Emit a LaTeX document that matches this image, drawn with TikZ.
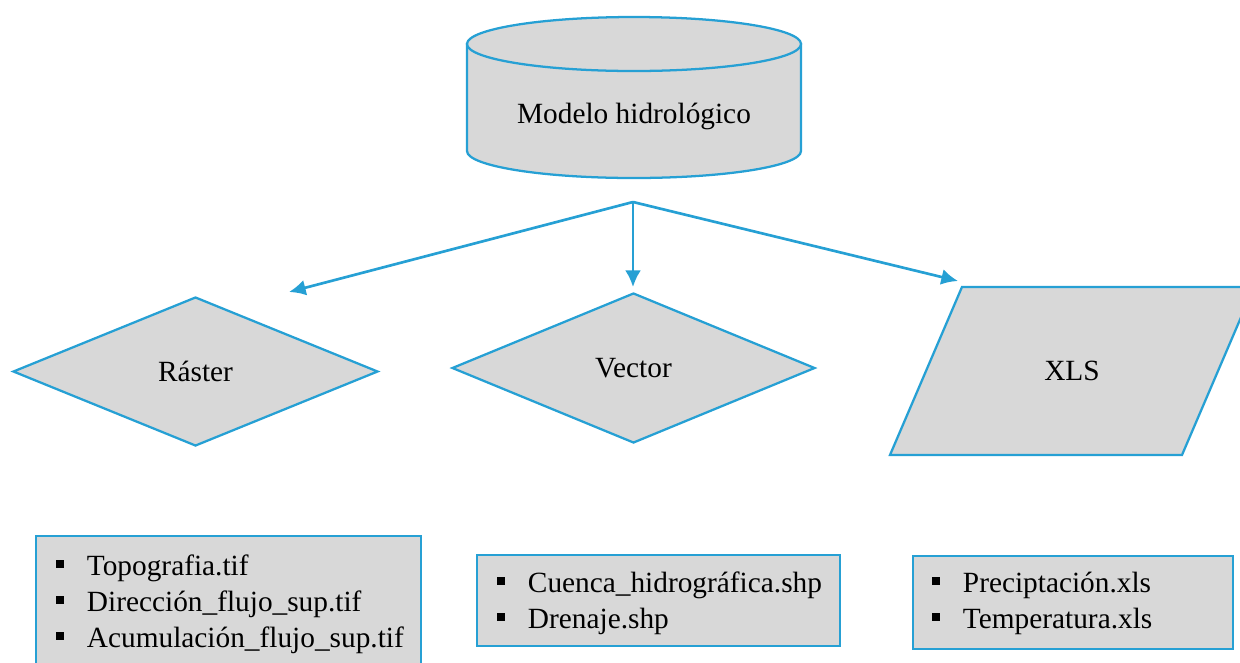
\documentclass[tikz,border=0pt]{standalone}
\usepackage{fontspec}
\setmainfont{Liberation Serif}
\usetikzlibrary{arrows.meta,shapes.geometric}
\definecolor{edgeblue}{RGB}{38,160,212}
\definecolor{boxgray}{RGB}{216,216,216}
% square bullet followed by the gap before the item text
\newcommand\sqbullet{\makebox[23pt][l]{\rule[5.5pt]{5.5pt}{5.5pt}}}

\begin{document}
\begin{tikzpicture}[x=0.75pt,y=-0.75pt,
  shapeline/.style={draw=edgeblue,line width=1.7pt,fill=boxgray},
  txt/.style={font=\fontsize{22}{26}\selectfont,inner sep=0pt},
  diamondbox/.style={shapeline,txt,diamond},
  listframe/.style={shapeline,rectangle,inner sep=0pt,anchor=north west},
  listitem/.style={txt,anchor=base west},
  flow/.style={draw=edgeblue,line width=2pt,-{Latex[length=12.5pt,width=12pt]}}
]
\useasboundingbox (0,0) rectangle (1240,662);
\clip (0,0) rectangle (1240,662);

% database cylinder
\path[shapeline] (467,44) -- (467,151)
  arc[start angle=180,end angle=0,x radius=167,y radius=27]
  -- (801,44) -- cycle;
\path[shapeline] (634,44) ellipse[x radius=167,y radius=27];
\node[txt,anchor=base] (model) at (634,123) {Modelo hidrológico};

% branching arrows
\coordinate (split) at (633,202);
\coordinate (rtip) at (289,292);
\coordinate (vtip) at (633,287);
\coordinate (xtip) at (958,281);
\draw[flow] (split) -- (rtip);
\draw[flow] (split) -- (vtip);
\draw[flow] (split) -- (xtip);

% data types
\node[diamondbox,minimum width=273.75pt,minimum height=111.75pt] (raster) at (195.5,371.5) {Ráster};
\node[diamondbox,minimum width=272.25pt,minimum height=112.5pt] (vector) at (633.5,368) {Vector};
\path[shapeline] (962,287) -- (1254,287) -- (1182,455) -- (890,455) -- cycle;
\node[txt] (xls) at (1072,371) {XLS};

% file lists
\node[listframe,minimum width=288.75pt,minimum height=105pt] (rbox) at (35,535) {};
\node[listitem] (r1) at (56,575) {\sqbullet Topografia.tif};
\node[listitem] (r2) at (56,611) {\sqbullet Dirección\_flujo\_sup.tif};
\node[listitem] (r3) at (56,647) {\sqbullet Acumulación\_flujo\_sup.tif};

\node[listframe,minimum width=272.25pt,minimum height=68.25pt] (vbox) at (476,554) {};
\node[listitem] (v1) at (497,592) {\sqbullet Cuenca\_hidrográfica.shp};
\node[listitem] (v2) at (497,628) {\sqbullet Drenaje.shp};

\node[listframe,minimum width=240pt,minimum height=69.75pt] (xbox) at (912,555) {};
\node[listitem] (x1) at (932,592) {\sqbullet Preciptación.xls};
\node[listitem] (x2) at (932,628) {\sqbullet Temperatura.xls};
\end{tikzpicture}
\end{document}
